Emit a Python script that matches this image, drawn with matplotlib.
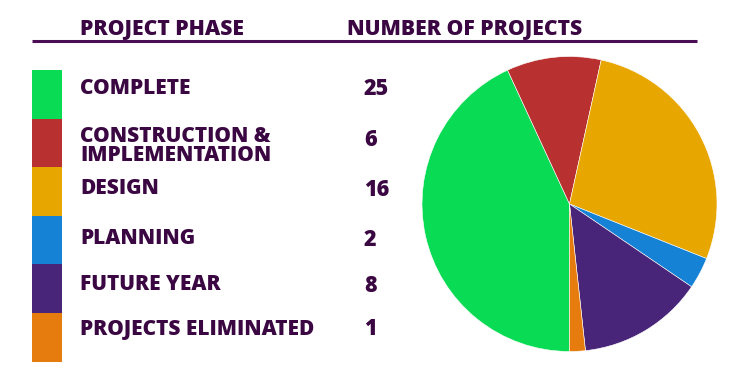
import matplotlib
matplotlib.use("Agg")
import matplotlib.pyplot as plt
from matplotlib.patches import Rectangle

phases = ["COMPLETE", "CONSTRUCTION &\nIMPLEMENTATION", "DESIGN", "PLANNING",
          "FUTURE YEAR", "PROJECTS ELIMINATED"]
counts = [25, 6, 16, 2, 8, 1]
colors = ["#0ADB55", "#B83030", "#E8A700", "#1582D5", "#482578", "#E67C0E"]
header_left = "PROJECT PHASE"
header_right = "NUMBER OF PROJECTS"

TXT = "#3B0742"
FONT = "Open Sans"
FW = 800

W, H = 742, 382
fig = plt.figure(figsize=(W / 100, H / 100), dpi=100)
fig.patch.set_facecolor("white")

# overlay axes in pixel coordinates
ov = fig.add_axes([0, 0, 1, 1])
ov.set_xlim(0, W)
ov.set_ylim(H, 0)
ov.axis("off")

ov.text(80, 29, header_left, fontsize=15.2, fontweight=FW, family=FONT,
        color=TXT, va="center", ha="left")
ov.text(347, 29, header_right, fontsize=15.2, fontweight=FW, family=FONT,
        color=TXT, va="center", ha="left")
ov.plot([32, 697], [41, 41], color="#4A0E55", lw=2.2, solid_capstyle="butt")

sw_top, sw_h = 70, 48.6
label_y = [89, 146, 189, 238, 284, 329]
num_y = [89, 140, 190, 240, 286, 329]
for i, (p, c, col) in enumerate(zip(phases, counts, colors)):
    ov.add_patch(Rectangle((32, sw_top + i * sw_h), 30, sw_h, facecolor=col,
                           edgecolor="none"))
    ov.text(80, label_y[i], p, fontsize=15, fontweight=FW, family=FONT,
            color=TXT, va="center", ha="left", linespacing=0.9)
    ov.text(364, num_y[i], str(c), fontsize=15.5, fontweight=FW, family=FONT,
            color=TXT, va="center", ha="left")

# pie axes
cx, cy, r = 569.5, 204, 147.5
pax = fig.add_axes([(cx - r) / W, (H - cy - r) / H, 2 * r / W, 2 * r / H])
pax.pie(counts, colors=colors, startangle=270, counterclock=False,
        wedgeprops=dict(edgecolor="white", linewidth=0.4), radius=1)
pax.set_xlim(-1, 1)
pax.set_ylim(-1, 1)
pax.axis("off")

fig.savefig("out.png", dpi=100)
